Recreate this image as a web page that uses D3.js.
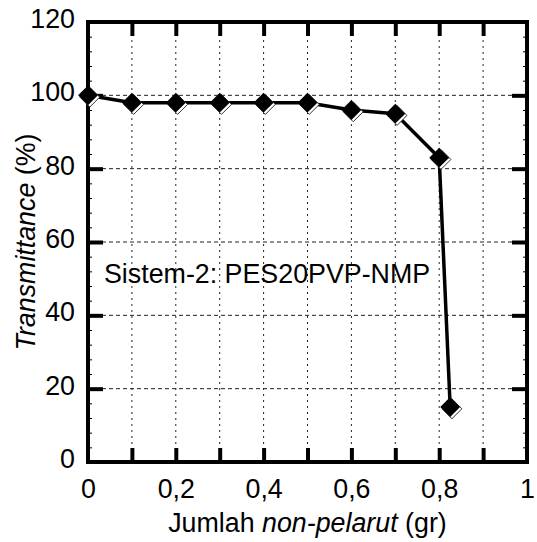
<!DOCTYPE html>
<html>
<head>
<meta charset="utf-8">
<script src="https://cdn.jsdelivr.net/npm/d3@7"></script>
<style>
  body { margin: 0; background: #fff; }
  svg text { font-family: Arial, "Liberation Sans", sans-serif; fill: #000; }
</style>
</head>
<body>
<svg id="chart" width="537" height="542"></svg>
<script>
// data
const nonSolvent = [0, 0.1, 0.2, 0.3, 0.4, 0.5, 0.6, 0.7, 0.8, 0.825]
const transmittance = [100, 98, 98, 98, 98, 98, 96, 95, 83, 15]
const xTicks = [0, 0.2, 0.4, 0.6, 0.8, 1]
const xTickLabels = ['0', '0,2', '0,4', '0,6', '0,8', '1']
const yTicks = [0, 20, 40, 60, 80, 100, 120]
const xGrid = [0.1, 0.2, 0.3, 0.4, 0.5, 0.6, 0.7, 0.8, 0.9]
const yGrid = [20, 40, 60, 80, 100]
const seriesLabel = 'Sistem-2: PES20PVP-NMP'

const margin = { top: 22, right: 10, bottom: 80, left: 88 }
const width = 537
const height = 542
const fontSize = 26.8

const svg = d3.select('#chart')

const x = d3.scaleLinear()
  .domain([0, 1])
  .range([margin.left, width - margin.right])

const y = d3.scaleLinear()
  .domain([0, 120])
  .range([height - margin.bottom, margin.top])

// grid
const grid = svg.append('g')
grid.selectAll('line.vgrid')
  .data(xGrid)
  .join('line')
    .attr('x1', d => x(d)).attr('x2', d => x(d))
    .attr('y1', y(120)).attr('y2', y(0))
    .attr('stroke', '#222')
    .attr('stroke-width', 1)
    .attr('stroke-dasharray', '2,4')
grid.selectAll('line.hgrid')
  .data(yGrid)
  .join('line')
    .attr('x1', x(0)).attr('x2', x(1))
    .attr('y1', d => y(d)).attr('y2', d => y(d))
    .attr('stroke', '#222')
    .attr('stroke-width', 1)
    .attr('stroke-dasharray', '4,3')

// tick marks, pointing inwards
const tickMarks = (axis, tr) => svg.append('g')
  .attr('transform', tr)
  .call(axis)
  .call(g => g.select('.domain').remove())
  .call(g => g.selectAll('.tick line').attr('stroke-width', 4))

tickMarks(d3.axisBottom(x).tickValues(xGrid).tickSize(-14).tickFormat(''), `translate(0,${y(0)})`)
tickMarks(d3.axisTop(x).tickValues(xGrid).tickSize(-14).tickFormat(''), `translate(0,${y(120)})`)
tickMarks(d3.axisLeft(y).tickValues(yGrid).tickSize(-15).tickFormat(''), `translate(${x(0)},0)`)
tickMarks(d3.axisRight(y).tickValues(yGrid).tickSize(-15).tickFormat(''), `translate(${x(1)},0)`)

// minor ticks on left and right
const minor = d3.range(4, 120, 4).filter(v => v % 20 !== 0)
svg.append('g').attr('transform', `translate(${x(0)},0)`)
  .call(d3.axisLeft(y).tickValues(minor).tickSize(-4).tickFormat(''))
  .call(g => g.select('.domain').remove())
svg.append('g').attr('transform', `translate(${x(1)},0)`)
  .call(d3.axisRight(y).tickValues(minor).tickSize(-4).tickFormat(''))
  .call(g => g.select('.domain').remove())

// frame
svg.append('rect')
  .attr('x', x(0)).attr('y', y(120))
  .attr('width', x(1) - x(0)).attr('height', y(0) - y(120))
  .attr('fill', 'none')
  .attr('stroke', '#000')
  .attr('stroke-width', 4)

// tick labels
svg.append('g')
  .attr('transform', `translate(0,${y(0)})`)
  .call(d3.axisBottom(x).tickValues(xTicks).tickSize(0).tickPadding(17)
    .tickFormat((d, i) => xTickLabels[i]))
  .call(g => g.select('.domain').remove())
  .call(g => g.selectAll('text').attr('font-size', fontSize).attr('font-family', null))

svg.append('g')
  .attr('transform', `translate(${x(0)},0)`)
  .call(d3.axisLeft(y).tickValues(yTicks).tickSize(0).tickPadding(13))
  .call(g => g.select('.domain').remove())
  .call(g => g.selectAll('text').attr('font-size', fontSize).attr('font-family', null).attr('dy', '0.2em'))

// line
const line = d3.line()
  .x((d, i) => x(nonSolvent[i]))
  .y(d => y(d))

svg.append('path')
  .datum(transmittance)
  .attr('fill', 'none')
  .attr('stroke', '#000')
  .attr('stroke-width', 3.5)
  .attr('stroke-linejoin', 'round')
  .attr('d', line)

// diamond markers with a small bevel
const diamond = d3.symbol().type(d3.symbolDiamond2).size(250)
const marks = svg.append('g')
transmittance.forEach((v, i) => {
  marks.append('path')
    .attr('d', diamond())
    .attr('transform', `translate(${x(nonSolvent[i]) + 1.8},${y(v) + 1.8})`)
    .attr('fill', '#fff')
    .attr('stroke', '#333')
    .attr('stroke-width', 1)
  marks.append('path')
    .attr('d', diamond())
    .attr('transform', `translate(${x(nonSolvent[i])},${y(v)})`)
    .attr('fill', '#000')
})

// annotation
svg.append('text')
  .attr('x', 104)
  .attr('y', 283)
  .attr('font-size', fontSize)
  .text(seriesLabel)

// axis titles
const xt = svg.append('text')
  .attr('x', (x(0) + x(1)) / 2)
  .attr('y', 532)
  .attr('text-anchor', 'middle')
  .attr('font-size', fontSize)
xt.append('tspan').text('Jumlah ')
xt.append('tspan').attr('font-style', 'italic').text('non-pelarut')
xt.append('tspan').text(' (gr)')

const yt = svg.append('text')
  .attr('transform', `translate(35,${(y(0) + y(120)) / 2}) rotate(-90)`)
  .attr('text-anchor', 'middle')
  .attr('font-size', fontSize)
yt.append('tspan').attr('font-style', 'italic').text('Transmittance')
yt.append('tspan').text(' (%)')
</script>
</body>
</html>
